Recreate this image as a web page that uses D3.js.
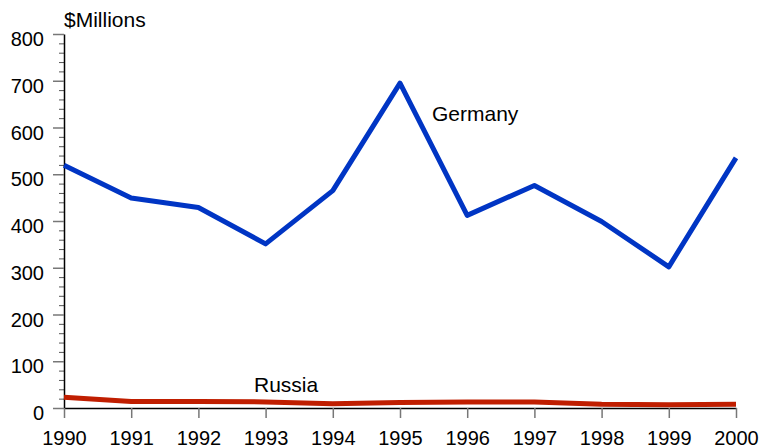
<!DOCTYPE html>
<html>
<head>
<meta charset="utf-8">
<script src="https://cdn.jsdelivr.net/npm/d3@7"></script>
<style>
  body { margin: 0; background: #fff; }
  text { font-family: "Liberation Sans", Arial, sans-serif; fill: #000; }
</style>
</head>
<body>
<svg id="chart"></svg>
<script>
// datos del grafico
var years   = [1990, 1991, 1992, 1993, 1994, 1995, 1996, 1997, 1998, 1999, 2000];
var germany = [519, 449, 429, 351, 465, 695, 412, 476, 399, 302, 535];
var russia  = [23, 14, 14, 13, 9, 12, 13, 13, 8, 7, 8];
var yTicks  = [0, 100, 200, 300, 400, 500, 600, 700, 800];

var w = 759, h = 448;
var xLeft = 64, xRight = 736, yTop = 34, yBottom = 408;

var svg = d3.select("#chart").attr("width", w).attr("height", h);

var xScale = d3.scaleLinear().domain([1990, 2000]).range([xLeft, xRight]);
var yScale = d3.scaleLinear().domain([0, 800]).range([yBottom, yTop]);

// ticks menores en y cada 20
var minor = d3.range(0, 801, 20).filter(function(d) { return d % 100 !== 0; });

var yMinor = d3.axisLeft(yScale).tickValues(minor).tickSize(5).tickFormat("");
svg.append("g")
   .attr("transform", "translate(" + xLeft + ",0)")
   .call(yMinor)
   .call(function(g) { g.select(".domain").remove(); g.selectAll("line").attr("stroke", "#555"); });

var yAxis = d3.axisLeft(yScale).tickValues(yTicks).tickSize(11).tickSizeOuter(0).tickPadding(9);
svg.append("g")
   .attr("transform", "translate(" + xLeft + ",0)")
   .call(yAxis)
   .call(function(g) {
       g.select(".domain").attr("stroke", "#000").attr("stroke-width", 1.5);
       g.selectAll("line").attr("stroke", "#777").attr("stroke-width", 1.5);
       g.selectAll("text").style("font-size", "20px").attr("font-family", null).attr("dy", 11.5);
   });

var xAxis = d3.axisBottom(xScale).tickValues(years).tickFormat(d3.format("d"))
              .tickSize(10).tickSizeOuter(0);
svg.append("g")
   .attr("transform", "translate(0," + yBottom + ")")
   .call(xAxis)
   .call(function(g) {
       g.select(".domain").attr("stroke", "#000").attr("stroke-width", 1.5);
       g.selectAll("line").attr("stroke", "#777").attr("stroke-width", 1.5);
       g.selectAll("text").style("font-size", "20px").attr("font-family", null)
        .attr("y", 37).attr("dy", 0);
   });

// lineas
var line = function(vals) {
    return d3.line()
             .x(function(d, i) { return xScale(years[i]); })
             .y(function(d) { return yScale(d); })(vals);
};

svg.append("path")
   .attr("d", line(russia))
   .attr("fill", "none")
   .attr("stroke", "#c01e00")
   .attr("stroke-width", 5)
   .attr("stroke-linejoin", "round");

svg.append("path")
   .attr("d", line(germany))
   .attr("fill", "none")
   .attr("stroke", "#0035c4")
   .attr("stroke-width", 5)
   .attr("stroke-linejoin", "round");

// etiquetas
svg.append("text").attr("x", 64).attr("y", 27).style("font-size", "21px").text("$Millions");
svg.append("text").attr("x", 432).attr("y", 121).style("font-size", "21px").text("Germany");
svg.append("text").attr("x", 254).attr("y", 392).style("font-size", "21px").text("Russia");
</script>
</body>
</html>
